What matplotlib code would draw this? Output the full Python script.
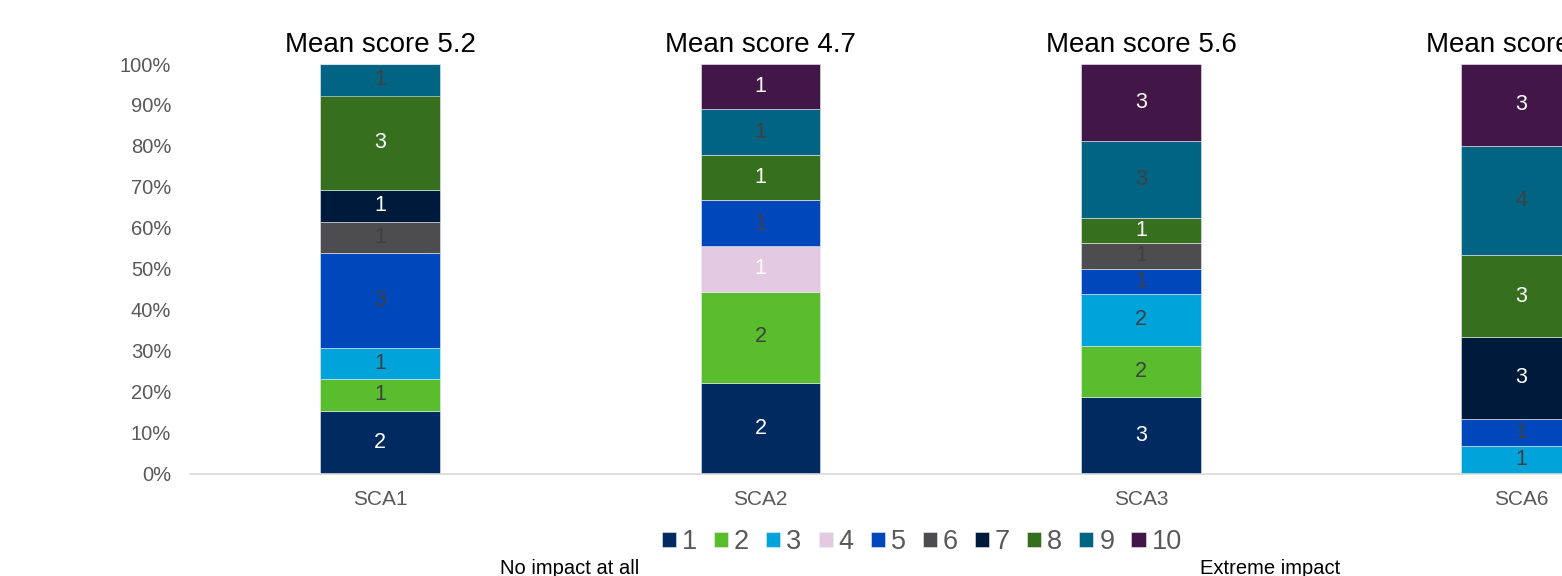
import matplotlib
matplotlib.use("Agg")
import matplotlib.pyplot as plt
import numpy as np
from matplotlib.ticker import FuncFormatter

plt.rcParams['font.family'] = ['Liberation Sans', 'DejaVu Sans']

categories = ["SCA1", "SCA2", "SCA3", "SCA6"]
score_levels = ["1", "2", "3", "4", "5", "6", "7", "8", "9", "10"]
# counts per score level (rows) for each category (columns)
score_1 = [2, 2, 3, 0]
score_2 = [1, 2, 2, 0]
score_3 = [1, 0, 2, 1]
score_4 = [0, 1, 0, 0]
score_5 = [3, 1, 1, 1]
score_6 = [1, 0, 1, 0]
score_7 = [1, 0, 0, 3]
score_8 = [3, 1, 1, 3]
score_9 = [1, 1, 3, 4]
score_10 = [0, 1, 3, 3]
counts = [score_1, score_2, score_3, score_4, score_5,
          score_6, score_7, score_8, score_9, score_10]

colors = ["#002A60", "#59BD2D", "#00A4DB", "#E3CAE2", "#0047BB",
          "#4D4D4F", "#001A3B", "#36701E", "#006482", "#421646"]
label_colors = ["white", "#404040", "#404040", "white", "#404040",
                "#404040", "white", "white", "#404040", "white"]

counts_arr = np.array(counts, dtype=float)
totals = counts_arr.sum(axis=0)
shares = counts_arr / totals
levels_num = np.arange(1, 11)[:, None]
means = (counts_arr * levels_num).sum(axis=0) / totals

W, H = 1562, 576
fig = plt.figure(figsize=(W / 100, H / 100), dpi=100)
ax = fig.add_axes([190 / W, (H - 473.5) / H, (1711.5 - 190) / W, 409.5 / H])

x = np.arange(len(categories))
bottom = np.zeros(len(categories))
handles = []
for k in range(len(score_levels)):
    bars = ax.bar(x, shares[k], 0.315, bottom=bottom, color=colors[k],
                  edgecolor="#e8eef4", linewidth=0.4, label=score_levels[k])
    handles.append(bars)
    for i in range(len(categories)):
        if counts_arr[k, i] > 0:
            ax.text(x[i], bottom[i] + shares[k, i] / 2, f"{int(counts_arr[k, i])}",
                    ha="center", va="center", fontsize=15.5, color=label_colors[k])
    bottom += shares[k]

for i, m in enumerate(means):
    ax.annotate(f"Mean score {m:.1f}", xy=(x[i], 1.0), xytext=(0, 8.6),
                textcoords="offset points", ha="center", va="baseline",
                fontsize=20, color="black", annotation_clip=False)

ax.set_xlim(-0.5, len(categories) - 0.5)
ax.set_ylim(0, 1)
ax.set_yticks(np.arange(0, 1.01, 0.1))
ax.yaxis.set_major_formatter(FuncFormatter(lambda v, p: f"{v * 100:.0f}%"))
ax.set_xticks(x)
ax.set_xticklabels(categories)
ax.tick_params(axis="y", length=0, pad=13.5, labelsize=14.5, labelcolor="#595959")
ax.tick_params(axis="x", length=0, pad=12, labelsize=15, labelcolor="#595959")
for s in ["top", "right", "left"]:
    ax.spines[s].set_visible(False)
ax.spines["bottom"].set_color("#d9d9d9")
ax.spines["bottom"].set_linewidth(1.2)

fig.legend(handles=handles, labels=score_levels, loc="center",
           bbox_to_anchor=(921.7 / W, 1 - 542 / H), ncol=10, frameon=False,
           fontsize=19.5, handlelength=0.52, handleheight=0.52, handletextpad=0.22,
           columnspacing=0.63, borderpad=0, labelcolor="#595959")

fig.text(570 / W, 1.5 / H, "No impact at all", ha="center", va="baseline",
         fontsize=14.5, color="black")
fig.text(1270 / W, 1.5 / H, "Extreme impact", ha="center", va="baseline",
         fontsize=14.5, color="black")

fig.savefig("out.png", dpi=100)
